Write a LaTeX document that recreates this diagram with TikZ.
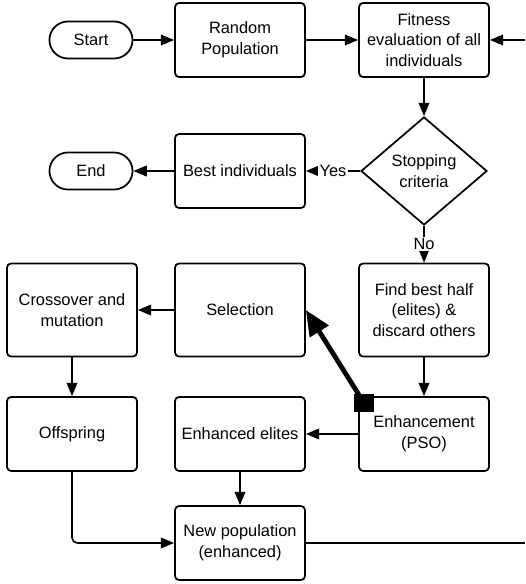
\documentclass[tikz,border=0pt]{standalone}
\usepackage{fontspec}
\setmainfont{Liberation Sans}
\usetikzlibrary{shapes.geometric}
\usetikzlibrary{shapes.misc}
\usetikzlibrary{arrows.meta}
\usetikzlibrary{positioning}

\tikzset{
  box/.style={draw, line width=1.3pt, rounded corners=3pt, align=center,
    minimum width=97.5pt, minimum height=55.5pt, inner sep=2pt},
  tallbox/.style={box, minimum height=69.75pt},
  term/.style={draw, line width=1.3pt, rounded rectangle, align=center,
    minimum width=69pt, minimum height=27.75pt},
  decide/.style={draw, line width=1.3pt, diamond, align=center,
    minimum width=94.5pt, minimum height=81pt, inner sep=0pt},
  flow/.style={line width=1.2pt, -{Triangle[length=10pt,width=8pt]}},
  bigflow/.style={line width=3.6pt, -{Triangle[length=19pt,width=16pt]}},
}

\begin{document}
\begin{tikzpicture}[x=0.75pt, y=-0.75pt, font=\fontsize{12.3pt}{15.5pt}\selectfont]
\useasboundingbox (0,0) rectangle (525,584);
% top row
\node[term] (start) at (91,40) {Start};
\node[box] (randpop) at (240,40) {Random\\Population};
\node[box] (fitness) at (424,40) {Fitness\\evaluation of all\\individuals};
% decision row
\node[decide] (stopcrit) at (424,171) {Stopping\\criteria};
\node[box] (bestind) at (240,171) {Best individuals};
\node[term] (finish) at (91,171) {End};
% middle row
\node[tallbox] (findbest) at (424,310) {Find best half\\(elites) \&\\discard others};
\node[tallbox] (select) at (240,310) {Selection};
\node[tallbox] (crossmut) at (72,310) {Crossover and\\mutation};
% lower rows
\node[box] (offspr) at (72,434) {Offspring};
\node[box] (enhelit) at (240,434) {Enhanced elites};
\node[box] (enhance) at (424,434) {Enhancement\\(PSO)};
\node[box] (newpop) at (240,543) {New population\\(enhanced)};
\coordinate (loopin) at (525,40);
\coordinate (loopout) at (525,543);
\coordinate (sq) at (364,403);

\draw[flow] (start) -- (randpop);
\draw[flow] (randpop) -- (fitness);
\draw[flow] (loopin) -- (fitness);
\draw[flow] (fitness) -- (stopcrit);
\draw[flow] (stopcrit) -- node[fill=white, inner sep=1pt]{Yes} (bestind);
\draw[flow] (bestind) -- (finish);
\draw[flow] (stopcrit) -- node[fill=white, inner sep=1pt]{No} (findbest);
\draw[flow] (findbest) -- (enhance);
\draw[flow] (enhance) -- (enhelit);
\draw[flow] (enhelit) -- (newpop);
\draw[flow] (select) -- (crossmut);
\draw[flow] (crossmut) -- (offspr);
\draw[flow, rounded corners=4pt] (offspr) |- (newpop);
\draw[line width=1.2pt] (newpop) -- (loopout);
\draw[bigflow] (sq) -- (select.east);
\fill ([shift={(-10,-9)}]sq) rectangle ([shift={(10,9)}]sq);
\end{tikzpicture}
\end{document}
